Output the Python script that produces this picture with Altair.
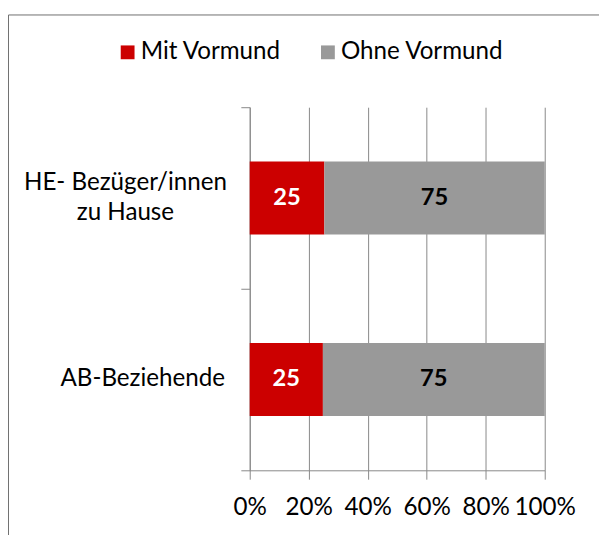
import altair as alt
import pandas as pd

categories = ["HE- Bezüger/innen\nzu Hause", "AB-Beziehende"]
series = ["Mit Vormund", "Ohne Vormund"]
mit_vormund = [25.3, 24.8]
ohne_vormund = [74.7, 75.2]
colors = ["#CC0000", "#999999"]
label_colors = ["white", "black"]
x_ticks = [0, 0.2, 0.4, 0.6, 0.8, 1.0]

rows = []
for i, c in enumerate(categories):
    rows.append({"cat": c, "series": series[0], "order": 0, "val": mit_vormund[i]})
    rows.append({"cat": c, "series": series[1], "order": 1, "val": ohne_vormund[i]})
df = pd.DataFrame(rows)

FONT = "Lato"
FS = 24.5
GRID = "#878787"

base = alt.Chart(df)

y_enc = alt.Y(
    "cat:N",
    sort=categories,
    title=None,
    scale=alt.Scale(paddingInner=0, paddingOuter=0),
    axis=alt.Axis(
        tickBand="extent",
        tickSize=9,
        tickColor=GRID,
        domainColor=GRID,
        labels=False,
        grid=False,
    ),
)

bars = base.mark_bar(size=74).encode(
    y=y_enc,
    x=alt.X(
        "val:Q",
        stack="normalize",
        title=None,
        scale=alt.Scale(domain=[0, 1], nice=False),
        axis=alt.Axis(
            values=x_ticks,
            format=".0%",
            grid=True,
            gridColor=GRID,
            domainColor=GRID,
            tickColor=GRID,
            tickSize=9,
            labelFontSize=FS,
            labelFont=FONT,
            labelColor="black",
            labelPadding=17,
            labelOverlap=False,
            labelFlush=False,
        ),
    ),
    color=alt.Color(
        "series:N",
        scale=alt.Scale(domain=series, range=colors),
        legend=alt.Legend(
            title=None,
            orient="none",
            legendX=-136,
            legendY=-68,
            direction="horizontal",
            symbolType="square",
            symbolSize=196,
            symbolStrokeWidth=0,
            labelFontSize=FS,
            labelFont=FONT,
            labelColor="black",
            labelOffset=1,
            columnPadding=35,
            labelLimit=0,
        ),
    ),
    order=alt.Order("order:Q"),
)

text = (
    base.transform_joinaggregate(total="sum(val)", groupby=["cat"])
    .transform_window(cum="sum(val)", groupby=["cat"], sort=[alt.SortField("order")])
    .transform_calculate(
        mid="(datum.cum - datum.val / 2) / datum.total",
        lab="format(datum.val, '.0f')",
    )
    .mark_text(font=FONT, fontSize=24, fontWeight="bold", baseline="middle", align="center")
    .encode(
        y=alt.Y("cat:N", sort=categories),
        x=alt.X("mid:Q"),
        text="lab:N",
        color=alt.Color("series:N", scale=alt.Scale(domain=series, range=label_colors), legend=None),
    )
)

# category labels (Excel style: two-line label centred as a block, single-line right-aligned)
cat_base = base.transform_filter(alt.datum.order == 0)
cat_multi = (
    cat_base.transform_filter("indexof(datum.cat, '\\n') >= 0")
    .mark_text(font=FONT, fontSize=FS, align="center", baseline="middle",
               lineBreak="\n", lineHeight=30, dy=-15, color="black")
    .encode(y=alt.Y("cat:N", sort=categories), x=alt.value(-126), text="cat:N")
)
cat_single = (
    cat_base.transform_filter("indexof(datum.cat, '\\n') < 0")
    .mark_text(font=FONT, fontSize=FS, align="right", baseline="middle", color="black")
    .encode(y=alt.Y("cat:N", sort=categories), x=alt.value(-25), text="cat:N")
)

frame = alt.Chart(pd.DataFrame({"a": [0]})).mark_rect(
    filled=False, stroke="#6f6f6f", strokeWidth=1
).encode(
    x=alt.value(-244.5),
    x2=alt.value(420),
    y=alt.value(-93.5),
    y2=alt.value(480),
)

chart = (
    alt.layer(frame, bars, text, cat_multi, cat_single)
    .resolve_scale(color="independent")
    .properties(
        width=299,
        height=368,
        padding={"left": 245, "top": 97, "right": 55, "bottom": 62},
        autosize=alt.AutoSizeParams(type="none"),
        background="white",
    )
    .configure_view(stroke=None)
)

chart.save("out.html", embed_options={"renderer": "svg", "actions": False})
